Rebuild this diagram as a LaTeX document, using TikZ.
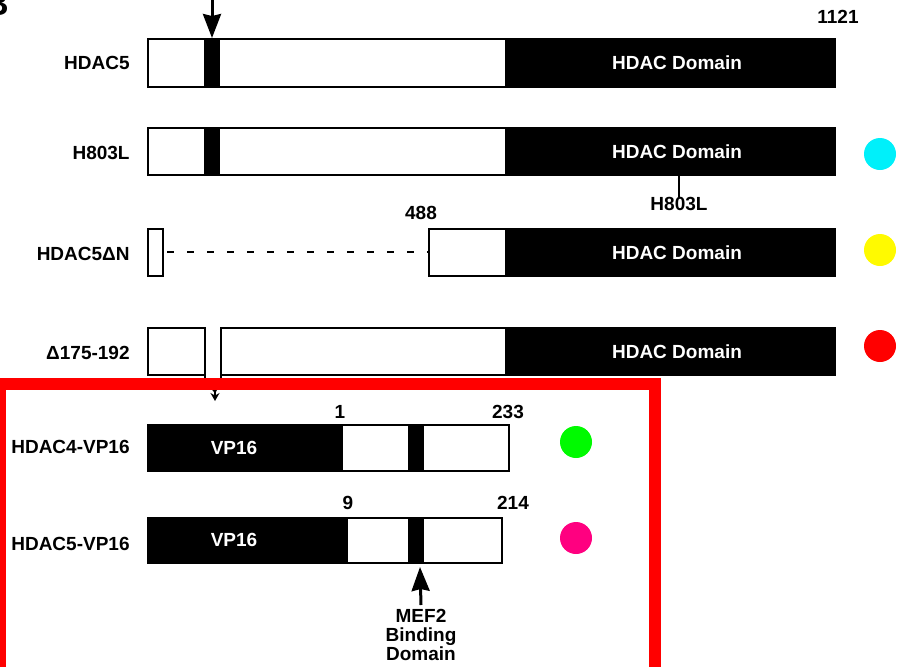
\documentclass[tikz,border=0pt]{standalone}
\usepackage{fontspec}
\setmainfont{Liberation Sans}
\usetikzlibrary{arrows.meta}
\definecolor{dotcyan}{RGB}{0,240,250}
\definecolor{dotyellow}{RGB}{255,250,0}
\definecolor{dotred}{RGB}{255,0,0}
\definecolor{dotgreen}{RGB}{0,250,0}
\definecolor{dotpink}{RGB}{255,0,128}
\tikzset{
  box/.style={draw, line width=0.9pt, fill=white},
  lbl/.style={font=\bfseries\fontsize{9.5}{11}\selectfont, anchor=east, inner sep=0pt},
  num/.style={font=\bfseries\fontsize{9.5}{11}\selectfont, inner sep=0pt},
  dtxt/.style={font=\bfseries\fontsize{9.5}{11}\selectfont, text=white, inner sep=0pt},
  dot/.style={circle, minimum size=16pt, inner sep=0pt},
  pin/.style={line width=1.5pt, -{Stealth[length=12pt, width=9pt, inset=1pt]}},
}
\begin{document}
\begin{tikzpicture}[x=0.5pt, y=-0.5pt, >=stealth]
\useasboundingbox (0,0) rectangle (901,666);

% Lettera del pannello
\node[font=\bfseries\fontsize{17}{20}\selectfont, anchor=base east, inner sep=0pt] (panel) at (9,15) {B};

% Etichette delle costruzioni
\node[lbl] (lhdac5) at (130,63) {HDAC5};
\node[lbl] (lh803l) at (130,153) {H803L};
\node[lbl] (ldeltan) at (130,254) {HDAC5ΔN};
\node[lbl] (ldel) at (130,353) {Δ175-192};
\node[lbl] (lvp4) at (130,447) {HDAC4-VP16};
\node[lbl] (lvp5) at (130,544) {HDAC5-VP16};

% HDAC5
\draw[box] (148,39) rectangle (835,87);
\fill (204,39) rectangle (220,87);
\fill (505,39) rectangle (835,87);
\node[dtxt] (dom1) at (677,63) {HDAC Domain};
\node[num] (n1121) at (838,17) {1121};
\coordinate (arrA) at (212,-2);
\coordinate (arrB) at (212,38);
\draw[pin] (arrA) -- (arrB);

% H803L
\draw[box] (148,128) rectangle (835,175);
\fill (204,128) rectangle (220,175);
\fill (505,128) rectangle (835,175);
\node[dtxt] (dom2) at (677,152) {HDAC Domain};
\node[num] (mut) at (679,204) {H803L};
\coordinate (mutA) at (679,175);
\draw[line width=1pt] (mutA) -- (mut.north);
\node[dot, fill=dotcyan] (c1) at (880,154) {};

% HDAC5 delta N
\draw[box] (148,229) rectangle (163,276);
\draw[box] (429,229) rectangle (835,276);
\fill (505,229) rectangle (835,276);
\node[dtxt] (dom3) at (677,253) {HDAC Domain};
\node[num] (n488) at (421,213) {488};
\coordinate (gapA) at (163,252);
\coordinate (gapB) at (429,252);
\draw[line width=1pt, dash pattern=on 3.5pt off 6.5pt, dash phase=-2pt] (gapA) -- (gapB);
\node[dot, fill=dotyellow] (c2) at (880,250) {};

% delta 175-192
\draw[box] (148,328) rectangle (205,375);
\draw[box] (221,328) rectangle (835,375);
\fill (505,328) rectangle (835,375);
\node[dtxt] (dom4) at (677,352) {HDAC Domain};
\coordinate (delL) at (205,375);
\coordinate (delR) at (221,375);
\coordinate (delM) at (215,392);
\draw[line width=0.8pt] (delL) -- (205,380) -- (delM) -- (221,380) -- (delR);
\node[dot, fill=dotred] (c3) at (880,346) {};

% Riquadro rosso
\draw[dotred, line width=6pt] (0,384) rectangle (655,700);
\coordinate (delT) at (215,401);
\draw[line width=0.8pt, -{Stealth[length=4pt, width=4.5pt]}] (delM) -- (delT);

% HDAC4-VP16
\draw[box] (148,425) rectangle (509,471);
\fill (148,425) rectangle (343,471);
\fill (408,425) rectangle (424,471);
\node[dtxt] (vp4) at (234,448) {VP16};
\node[num] (n1) at (340,412) {1};
\node[num] (n233) at (508,412) {233};
\node[dot, fill=dotgreen] (c4) at (576,442) {};

% HDAC5-VP16
\draw[box] (148,518) rectangle (502,563);
\fill (148,518) rectangle (348,563);
\fill (408,518) rectangle (424,563);
\node[dtxt] (vp5) at (234,540) {VP16};
\node[num] (n9) at (348,503) {9};
\node[num] (n214) at (513,503) {214};
\node[dot, fill=dotpink] (c5) at (576,538) {};

% Dominio di legame MEF2
\node[num, align=center, anchor=north, font=\bfseries\fontsize{9.5}{9.4}\selectfont, inner sep=2pt] (mef) at (421,605) {MEF2\\Binding\\Domain};
\coordinate (mefTip) at (420,567);
\draw[pin] (mef.north) -- (mefTip);

\end{tikzpicture}
\end{document}
